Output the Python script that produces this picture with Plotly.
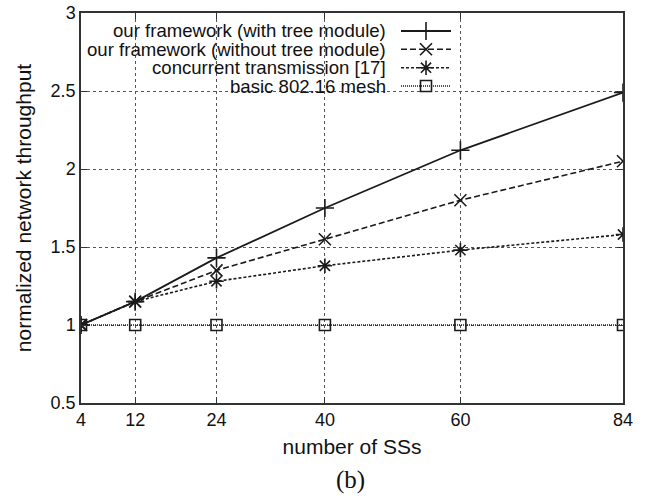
import plotly.graph_objects as go

x_ss = [4, 12, 24, 40, 60, 84]
with_tree = [1.0, 1.15, 1.43, 1.75, 2.12, 2.49]
without_tree = [1.0, 1.15, 1.35, 1.55, 1.80, 2.05]
concurrent = [1.0, 1.15, 1.28, 1.38, 1.48, 1.58]
basic_mesh = [1.0, 1.0, 1.0, 1.0, 1.0, 1.0]

labels = ["our framework (with tree module)",
          "our framework (without tree module)",
          "concurrent transmission [17]",
          "basic 802.16 mesh"]
x_ticks = [4, 12, 24, 40, 60, 84]
y_ticks = [0.5, 1, 1.5, 2, 2.5, 3]

C = "#1a1a1a"
styles = [
    dict(dash="solid", width=1.8, symbol="cross-thin", size=13),
    dict(dash="6px,3px", width=1.6, symbol="x-thin", size=12),
    dict(dash="3px,2px", width=1.6, symbol="asterisk", size=12),
    dict(dash="1px,1px", width=1.6, symbol="square-open", size=11),
]
series = [with_tree, without_tree, concurrent, basic_mesh]
legend_ids = ["legend", "legend2", "legend3", "legend4"]

fig = go.Figure()
for lab, ys, st in zip(labels, series, styles):
    fig.add_trace(go.Scatter(
        x=x_ss, y=ys, name=lab, mode="lines+markers", showlegend=False,
        line=dict(color=C, width=st["width"], dash=st["dash"]),
        marker=dict(symbol=st["symbol"], size=st["size"], color=C,
                    line=dict(color=C, width=1.6)),
    ))
# legend samples; the label texts are right-aligned annotations (gnuplot-style key)
for lab, st, lid in zip(labels, styles, legend_ids):
    fig.add_trace(go.Scatter(
        x=[None], y=[None], name=" ", mode="lines+markers", showlegend=True,
        legend=lid,
        line=dict(color=C, width=st["width"], dash=st["dash"]),
        marker=dict(symbol=st["symbol"], size=st["size"], color=C,
                    line=dict(color=C, width=1.6)),
        hoverinfo="skip",
    ))

L, R, T, B = 81, 33, 13, 95
W, H = 656, 498
pw, ph = W - L - R, H - T - B

def px(xp):
    return (xp - L) / pw

def py(yp):
    return (H - B - yp) / ph

row_y = [31, 49.3, 67.7, 86]
for lab, yy in zip(labels, row_y):
    fig.add_annotation(text=lab, x=px(388), y=py(yy), xref="paper", yref="paper",
                       xanchor="right", yanchor="middle", showarrow=False,
                       font=dict(family="Liberation Sans, Arial", size=18.6, color="#111"))

# white key box hiding grid lines (gnuplot opaque key)
fig.add_shape(type="rect", xref="paper", yref="paper", layer="between",
              x0=0.002, x1=px(458), y0=py(95), y1=0.997,
              fillcolor="white", line=dict(width=0))

fig.add_annotation(text="(b)", x=px(350), y=py(480), xref="paper", yref="paper",
                   xanchor="center", yanchor="middle", showarrow=False,
                   font=dict(family="Liberation Serif, Times New Roman", size=25, color="#111"))

axis_common = dict(
    showline=True, linecolor="#333", linewidth=1.5, mirror="allticks",
    ticks="inside", ticklen=6, tickwidth=1.2, tickcolor="#333",
    showgrid=True, gridcolor="#555", gridwidth=0.8, griddash="dot",
    zeroline=False, automargin=False,
    tickfont=dict(family="Liberation Sans, Arial", size=18, color="#111"),
)
fig.update_xaxes(range=[4, 84], tickvals=x_ticks, ticktext=[str(v) for v in x_ticks],
                 title=dict(text="number of SSs", standoff=10,
                            font=dict(family="Liberation Sans, Arial", size=21, color="#111")),
                 **axis_common)
fig.update_yaxes(range=[0.5, 3], tickvals=y_ticks, ticktext=["0.5", "1", "1.5", "2", "2.5", "3"],
                 title=dict(text="normalized network throughput", standoff=13,
                            font=dict(family="Liberation Sans, Arial", size=21, color="#111")),
                 **axis_common)

legend_layout = {}
for lid, yy in zip(legend_ids, row_y):
    legend_layout[lid] = dict(x=px(396), y=py(yy), xanchor="left", yanchor="middle",
                              bgcolor="rgba(0,0,0,0)", borderwidth=0, itemwidth=50,
                              font=dict(size=10), itemclick=False, itemdoubleclick=False)

fig.update_layout(
    width=W, height=H,
    margin=dict(l=L, r=R, t=T, b=B),
    plot_bgcolor="white", paper_bgcolor="white",
    hovermode="closest",
    **legend_layout,
)

fig.write_html("out.html", config={"displayModeBar": False},
               post_script="document.body.style.margin='0px';")
